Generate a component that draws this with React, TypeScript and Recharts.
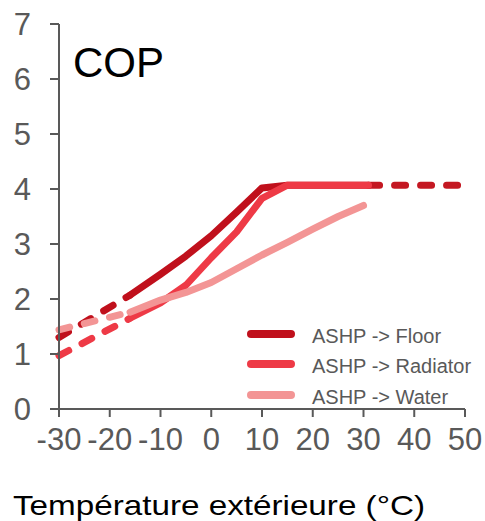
import React from 'react';
import { LineChart, Line, XAxis, YAxis } from 'recharts';

// temperature (°C) -> COP
const floorLeft = [[-30, 1.3], [-16, 2.07]];
const floorSolid = [[-16, 2.07], [-10, 2.45], [-5, 2.78], [0, 3.15], [5, 3.58], [10, 4.02], [15, 4.07], [31, 4.07]];
const floorRight = [[31, 4.07], [49, 4.07]];

const radiatorLeft = [[-30, 0.97], [-16, 1.65]];
const radiatorSolid = [[-16, 1.65], [-10, 1.93], [-5, 2.25], [0, 2.75], [5, 3.22], [10, 3.83], [15, 4.07], [31, 4.07]];

const waterLeft = [[-30, 1.44], [-16, 1.76]];
const waterSolid = [[-16, 1.76], [-10, 1.98], [-5, 2.12], [0, 2.3], [5, 2.55], [10, 2.8], [15, 3.03], [20, 3.27], [25, 3.5], [30, 3.7]];

const xTicks = [-30, -20, -10, 0, 10, 20, 30, 40, 50];
const yTicks = [0, 1, 2, 3, 4, 5, 6, 7];

const seriesNames = ['ASHP -> Floor', 'ASHP -> Radiator', 'ASHP -> Water'];
const seriesColors = ['#c0101c', '#ee3a46', '#f39595'];

const FONT = '"Liberation Sans", Arial, sans-serif';
const GREY = '#595959';

const toPoints = (pts: number[][]) => pts.map(([x, y]) => ({ x, y }));

const lines = [
  { key: 'floorLeft', data: floorLeft, color: seriesColors[0], dash: true },
  { key: 'floorSolid', data: floorSolid, color: seriesColors[0], dash: false },
  { key: 'floorRight', data: floorRight, color: '#c41822', dash: true },
  { key: 'radiatorLeft', data: radiatorLeft, color: seriesColors[1], dash: true },
  { key: 'radiatorSolid', data: radiatorSolid, color: seriesColors[1], dash: false },
  { key: 'waterLeft', data: waterLeft, color: seriesColors[2], dash: true },
  { key: 'waterSolid', data: waterSolid, color: seriesColors[2], dash: false },
];

export default function App() {
  return (
    <div style={{ position: 'absolute', left: 0, top: 0, width: 485, height: 521, background: '#fff' }}>
      <LineChart width={485} height={521} margin={{ top: 24, right: 20, left: 9, bottom: 52 }}>
        <XAxis
          dataKey="x"
          type="number"
          domain={[-30, 50]}
          ticks={xTicks}
          interval={0}
          tickSize={8}
          tickMargin={11}
          height={60}
          axisLine={{ stroke: GREY, strokeWidth: 2 }}
          tickLine={{ stroke: GREY, strokeWidth: 2 }}
          tick={{ fill: GREY, fontSize: 31, fontFamily: FONT }}
        />
        <YAxis
          type="number"
          domain={[0, 7]}
          ticks={yTicks}
          interval={0}
          width={50}
          tickSize={9}
          tickMargin={19}
          axisLine={{ stroke: GREY, strokeWidth: 2 }}
          tickLine={{ stroke: GREY, strokeWidth: 2 }}
          tick={{ fill: GREY, fontSize: 31, fontFamily: FONT }}
        />
        {lines.map((l) => (
          <Line
            key={l.key}
            data={toPoints(l.data)}
            dataKey="y"
            type="linear"
            stroke={l.color}
            strokeWidth={7}
            strokeLinecap="round"
            strokeLinejoin="round"
            strokeDasharray={l.dash ? '11 15' : undefined}
            dot={false}
            activeDot={false}
            isAnimationActive={false}
          />
        ))}
      </LineChart>
      <svg
        width={485}
        height={521}
        style={{ position: 'absolute', left: 0, top: 0, pointerEvents: 'none' }}
      >
        <text x={73} y={77} fontSize={42} fontFamily={FONT} fill="#000">COP</text>
        {seriesNames.map((name, i) => {
          const cy = [334, 364, 395][i];
          return (
            <g key={name}>
              <line x1={251} x2={291} y1={cy} y2={cy} stroke={seriesColors[i]} strokeWidth={8} strokeLinecap="round" />
              <text x={312} y={cy + 9} fontSize={20} fontFamily={FONT} fill={GREY}>
                {name}
              </text>
            </g>
          );
        })}
        <text
          x={13}
          y={515}
          fontSize={28}
          fontFamily={FONT}
          fill="#000"
          textLength={412}
          lengthAdjust="spacingAndGlyphs"
        >
          Température extérieure (°C)
        </text>
      </svg>
    </div>
  );
}
